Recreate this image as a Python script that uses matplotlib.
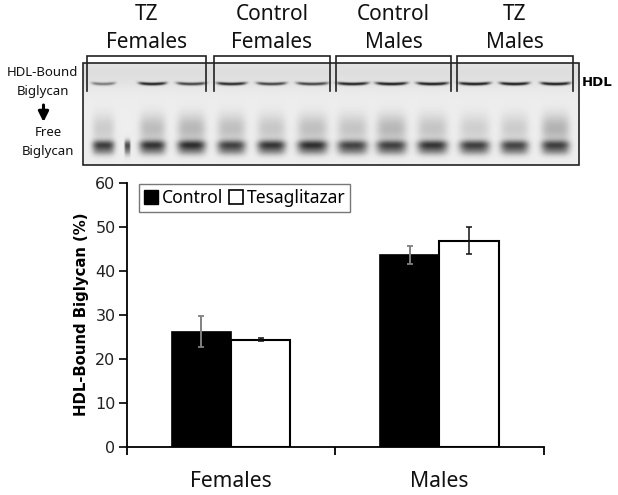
import numpy as np
import matplotlib
matplotlib.use("Agg")
import matplotlib.pyplot as plt
from matplotlib.patches import Rectangle, Patch

# ---- bar chart data ----
categories = ["Females", "Males"]
control_vals = [26.3, 43.7]
control_err = [3.5, 2.0]
tz_vals = [24.5, 47.0]
tz_err = [0.3, 3.1]
series_names = ["Control", "Tesaglitazar"]
yticks = [0, 10, 20, 30, 40, 50, 60]

# ---- gel panel data ----
group_top = ["TZ", "Control", "Control", "TZ"]
group_bot = ["Females", "Females", "Males", "Males"]
group_left = [87, 214, 336, 457]
group_right = [206, 330, 451, 573]
lane_x = [103, 127, 152, 191, 231, 271, 312, 352, 391, 432, 474, 514, 555]
lane_w = [11, 3, 13, 14, 14, 14, 15, 15, 15, 15, 15, 14, 14]
hdl_amp = [0.40, 0.0, 0.75, 0.62, 0.72, 0.62, 0.62, 0.75, 0.78, 0.78, 0.78, 0.78, 0.78]
free_amp = [0.55, 0.52, 0.58, 0.60, 0.52, 0.58, 0.60, 0.52, 0.52, 0.58, 0.55, 0.52, 0.52]
smear_amp = [0.13, 0.0, 0.19, 0.21, 0.18, 0.15, 0.18, 0.16, 0.21, 0.16, 0.12, 0.13, 0.23]

fig = plt.figure(figsize=(6.18, 4.95), dpi=100)
fig.patch.set_facecolor("white")

# ---- overlay in pixel coordinates for the gel ----
top = fig.add_axes([0, 0, 1, 1])
top.set_xlim(0, 618)
top.set_ylim(495, 0)
top.axis("off")

gx0, gx1, gy0, gy1 = 83, 579, 63, 165
xx, yy = np.meshgrid(np.arange(gx0, gx1), np.arange(gy0, gy1))
dark = np.full(xx.shape, 0.07, dtype=float)
dark += 0.06 * np.exp(-((yy - 72) / 16.0) ** 2)
for x, w, h_a, f_a, s_a in zip(lane_x, lane_w, hdl_amp, free_amp, smear_amp):
    prof = np.exp(-(np.abs(xx - x) / w) ** 4)
    u = (xx - x) / (w + 1.0)
    dark += h_a * np.exp(-np.abs(u) ** 6) * np.exp(-((yy - (83.5 - 1.0 * u ** 2)) / 1.6) ** 2)
    dark += f_a * prof * np.exp(-((yy - 144) / 4.5) ** 2)
    dark += 0.36 * (f_a > 0) * prof * np.exp(-((yy - 150) / 5.0) ** 2)
    dark += s_a * prof * np.exp(-((yy - 128) / 14.0) ** 2)
gel = 1 - np.clip(dark, 0, 0.82)
top.imshow(gel, cmap="gray", vmin=0, vmax=1, extent=(gx0, gx1, gy1, gy0),
           aspect="auto", interpolation="bilinear", zorder=1)
top.set_xlim(0, 618)
top.set_ylim(495, 0)
top.add_patch(Rectangle((gx0, gy0), gx1 - gx0, gy1 - gy0, fill=False,
                        ec="#222222", lw=1.2, zorder=3))

bracket_top, bracket_bot = 56, 91
for l, r, t, b in zip(group_left, group_right, group_top, group_bot):
    top.plot([l, l, r, r], [bracket_bot, bracket_top, bracket_top, bracket_bot],
             color="#222222", lw=1.2, zorder=4, solid_joinstyle="miter")
    cx = (l + r) / 2
    top.text(cx, 15, t, ha="center", va="center", fontsize=15, family="Noto Sans", color="#111111")
    top.text(cx, 42, b, ha="center", va="center", fontsize=15, family="Noto Sans", color="#111111")

label_kw = dict(ha="center", va="center", fontsize=9.5, family="Noto Sans", color="#111111")
top.text(42, 73, "HDL-Bound", **label_kw)
top.text(43, 92, "Biglycan", **label_kw)
top.text(48, 132, "Free", **label_kw)
top.text(48, 151, "Biglycan", **label_kw)
top.annotate("", xy=(43.5, 122), xytext=(43.5, 105),
             arrowprops=dict(arrowstyle="-|>", color="black", lw=2.2, mutation_scale=15, shrinkA=0, shrinkB=0))
top.text(597, 83, "HDL", ha="center", va="center", fontsize=9.5, fontweight="bold", family="DejaVu Sans", color="black")

# ---- bar chart ----
ax = fig.add_axes([126.7 / 618, (495 - 447.3) / 495, 417 / 618, 264 / 495])
ax.patch.set_alpha(0)
x = np.arange(len(categories)) + 0.5
w = 0.285
ax.bar(x - w / 2, control_vals, w, color="black", edgecolor="black", lw=1.2)
ax.bar(x + w / 2, tz_vals, w, color="white", edgecolor="black", lw=1.5)
ax.errorbar(x - w / 2, control_vals, yerr=control_err, fmt="none", ecolor="#808080",
            elinewidth=1.4, capsize=2.2, capthick=1.3)
ax.errorbar(x + w / 2, tz_vals, yerr=tz_err, fmt="none", ecolor="#111111",
            elinewidth=1.1, capsize=2.2, capthick=1.1)
ax.set_xlim(0, 2)
ax.set_ylim(0, 60)
ax.set_yticks(yticks)
ax.set_xticks([0, 1, 2])
ax.set_xticklabels([])
ax.set_xticks(x, minor=True)
ax.set_xticklabels(categories, minor=True, fontsize=15.2, family="Noto Sans", color="#111111")
ax.tick_params(axis="x", which="minor", length=0, pad=17)
ax.tick_params(axis="x", which="major", length=6, width=1.3, direction="out")
ax.tick_params(axis="y", length=6, width=1.2, labelsize=11.5, pad=2, labelcolor="#222222")
for s in ["top", "right"]:
    ax.spines[s].set_visible(False)
for s in ["left", "bottom"]:
    ax.spines[s].set_linewidth(1.3)
ax.set_ylabel("HDL-Bound Biglycan (%)", fontsize=10.7, fontweight="bold")
ax.yaxis.set_label_coords(-0.091, 0.505)
handles = [Patch(fc="black", ec="black"), Patch(fc="white", ec="black", lw=1.2)]
ax.legend(handles, series_names, ncol=2, loc="upper left", bbox_to_anchor=(0.03, 0.997),
          borderaxespad=0, fancybox=False, edgecolor="#777777", framealpha=1,
          prop={"family": "Noto Sans", "size": 12.6}, handlelength=0.8, handleheight=0.8,
          handletextpad=0.2, columnspacing=0.35, borderpad=0.28)

fig.savefig("out.png", dpi=100)
